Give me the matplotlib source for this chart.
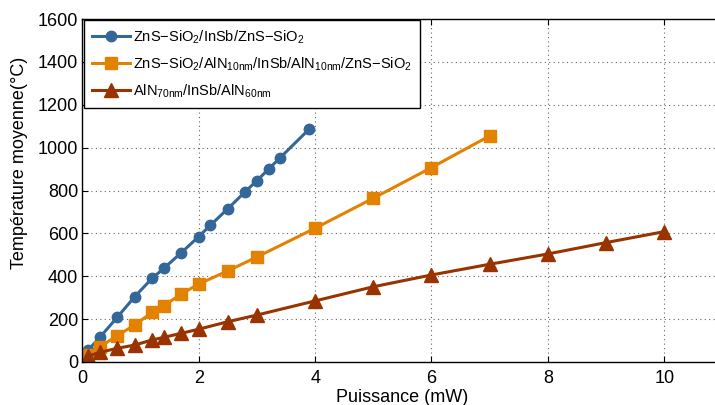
import matplotlib
matplotlib.use("Agg")
import matplotlib.pyplot as plt

plt.rcParams['font.family'] = ['Liberation Sans', 'DejaVu Sans']
plt.rcParams['mathtext.fontset'] = 'custom'
plt.rcParams['mathtext.rm'] = 'Liberation Sans'
plt.rcParams['mathtext.it'] = 'Liberation Sans:italic'
plt.rcParams['mathtext.bf'] = 'Liberation Sans:bold'

# Data
x_blue = [0.1, 0.3, 0.6, 0.9, 1.2, 1.4, 1.7, 2.0, 2.2, 2.5, 2.8, 3.0, 3.2, 3.4, 3.9]
y_blue = [56, 115, 209, 305, 391, 437, 510, 585, 638, 715, 795, 846, 900, 953, 1087]

x_orange = [0.1, 0.3, 0.6, 0.9, 1.2, 1.4, 1.7, 2.0, 2.5, 3.0, 4.0, 5.0, 6.0, 7.0]
y_orange = [33, 71, 123, 173, 232, 263, 317, 364, 425, 490, 624, 764, 907, 1055]

x_red = [0.1, 0.3, 0.6, 0.9, 1.2, 1.4, 1.7, 2.0, 2.5, 3.0, 4.0, 5.0, 6.0, 7.0, 8.0, 9.0, 10.0]
y_red = [28, 45, 64, 79, 103, 115, 134, 153, 188, 219, 285, 351, 406, 456, 504, 557, 608]

labels = [
    r'ZnS$-$SiO$_2$/InSb/ZnS$-$SiO$_2$',
    r'ZnS$-$SiO$_2$/AlN$_{\mathrm{10nm}}$/InSb/AlN$_{\mathrm{10nm}}$/ZnS$-$SiO$_2$',
    r'AlN$_{\mathrm{70nm}}$/InSb/AlN$_{\mathrm{60nm}}$',
]
xticks = [0, 2, 4, 6, 8, 10]
yticks = [0, 200, 400, 600, 800, 1000, 1200, 1400, 1600]

c_blue = '#336699'
c_orange = '#E38200'
c_red = '#993300'

fig = plt.figure(figsize=(7.15, 4.05), dpi=100)
ax = fig.add_axes([82.4/715, 43/405, 640/715, 343/405])

ax.plot(x_blue, y_blue, '-o', color=c_blue, lw=2.2, ms=7.5, label=labels[0])
ax.plot(x_orange, y_orange, '-s', color=c_orange, lw=2.2, ms=8, label=labels[1])
ax.plot(x_red, y_red, '-^', color=c_red, lw=2.2, ms=10, label=labels[2])

ax.set_xlim(0, 11)
ax.set_ylim(0, 1600)
ax.set_xticks(xticks)
ax.set_yticks(yticks)
ax.tick_params(direction='in', top=True, right=True, labelsize=13, length=4, pad=3)
ax.tick_params(axis='x', pad=6)
ax.grid(True, linestyle=(0, (1, 3)), color='#666666', lw=0.8)
for s in ax.spines.values():
    s.set_linewidth(1.0)

ax.set_xlabel('Puissance (mW)', fontsize=13, labelpad=1)
ax.set_ylabel('Température moyenne(°C)', fontsize=13)
ax.yaxis.set_label_coords(-0.085, 0.58)

leg = ax.legend(loc='upper left', fontsize=10.5, frameon=True, fancybox=False,
                edgecolor='black', framealpha=1, handlelength=2.6,
                borderaxespad=0.1, labelspacing=0.65, handletextpad=0.25,
                borderpad=0.55)
leg.get_frame().set_linewidth(1.0)

fig.savefig('out.png', dpi=100)
